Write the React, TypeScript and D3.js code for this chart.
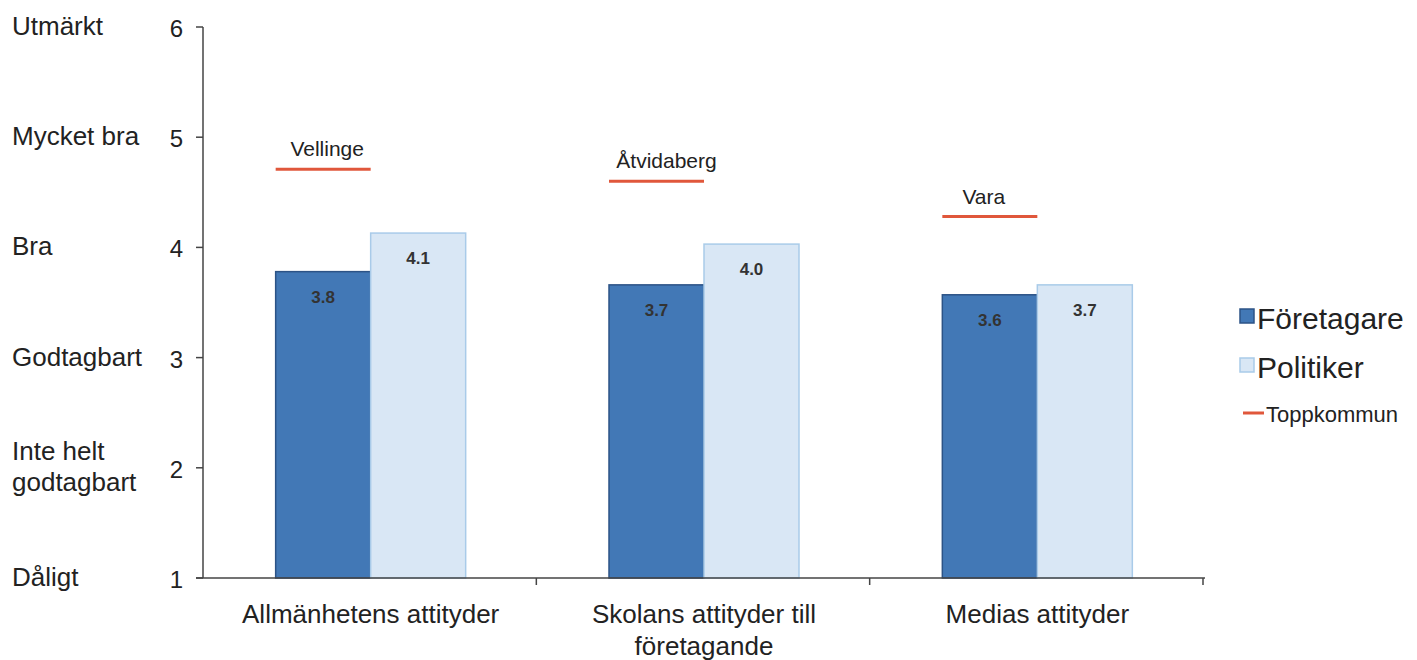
import React from "react";
import * as d3 from "d3";

const categories = ["Allmänhetens attityder", "Skolans attityder till företagande", "Medias attityder"];
const categoryLines = [["Allmänhetens attityder"], ["Skolans attityder till", "företagande"], ["Medias attityder"]];
const foretagare = [3.78, 3.66, 3.57];
const politiker = [4.13, 4.03, 3.66];
const toppkommun = [4.71, 4.6, 4.28];
const toppNames = ["Vellinge", "Åtvidaberg", "Vara"];
const yTicks = [1, 2, 3, 4, 5, 6];
const yTickNames = [["Dåligt"], ["Inte helt", "godtagbart"], ["Godtagbart"], ["Bra"], ["Mycket bra"], ["Utmärkt"]];
const seriesNames = ["Företagare", "Politiker"];

const W = 1417, H = 660;
const FONT = "'Liberation Sans', Arial, sans-serif";

export default function App() {
  const x = d3.scaleBand<string>().domain(categories).range([203, 1203]).paddingInner(0).paddingOuter(0);
  const y = d3.scaleLinear().domain([1, 6]).range([578, 27]);
  const bw = 95;
  const series = [
    { name: seriesNames[0], values: foretagare, fill: "#4278b6", stroke: "#2c5386" },
    { name: seriesNames[1], values: politiker, fill: "#d9e7f5", stroke: "#a9cbe9" },
  ];
  const labelShift = [4, 10, -6];
  return (
    <svg width={W} height={H} style={{ position: "absolute", left: 0, top: 0, background: "#fff" }} fontFamily={FONT}>
      {categories.map((c, i) => {
        const cx = (x(c) as number) + x.bandwidth() / 2 + 1;
        return (
          <g key={c}>
            {series.map((s, j) => {
              const x0 = cx - bw + j * bw;
              const top = y(s.values[i]);
              return (
                <g key={s.name}>
                  <rect x={x0} y={top} width={bw} height={y(1) - top} fill={s.fill} stroke={s.stroke} strokeWidth={1.5} />
                  <text x={x0 + bw / 2} y={top + 31} textAnchor="middle" fontSize={17} fontWeight="bold" fill="#333">
                    {d3.format(".1f")(s.values[i])}
                  </text>
                </g>
              );
            })}
            <line x1={cx - bw} x2={cx} y1={y(toppkommun[i])} y2={y(toppkommun[i])} stroke="#e0573b" strokeWidth={3} />
            <text x={cx - bw / 2 + labelShift[i]} y={y(toppkommun[i]) - 13} textAnchor="middle" fontSize={21} fill="#222">
              {toppNames[i]}
            </text>
            {categoryLines[i].map((ln, k) => (
              <text key={k} x={cx} y={623 + k * 32} textAnchor="middle" fontSize={26} fill="#222">{ln}</text>
            ))}
          </g>
        );
      })}
      <line x1={203} x2={203} y1={y(6)} y2={y(1)} stroke="#444" strokeWidth={1.5} />
      <line x1={196} x2={1205} y1={y(1)} y2={y(1)} stroke="#444" strokeWidth={1.5} />
      {yTicks.map((t) => (
        <g key={t}>
          <line x1={196} x2={203} y1={y(t)} y2={y(t)} stroke="#444" strokeWidth={1.5} />
          <text x={183} y={y(t) + 10} textAnchor="end" fontSize={24} fill="#222">{t}</text>
        </g>
      ))}
      {categories.map((c, i) => {
        const bx = (x(c) as number) + x.bandwidth();
        return <line key={i} x1={bx} x2={bx} y1={y(1)} y2={y(1) + 7} stroke="#444" strokeWidth={1.5} />;
      })}
      {yTickNames.map((names, i) => {
        const yy = y(yTicks[i]);
        const base = names.length === 1 ? yy + 8 : yy - 8;
        return names.map((n, k) => (
          <text key={`${i}-${k}`} x={12} y={base + k * 31} fontSize={26} fill="#222">{n}</text>
        ));
      })}
      <rect x={1240} y={309} width={14} height={14} fill={series[0].fill} stroke={series[0].stroke} strokeWidth={1.5} />
      <text x={1257} y={329} fontSize={30} fill="#222">{seriesNames[0]}</text>
      <rect x={1240} y={358} width={14} height={14} fill={series[1].fill} stroke={series[1].stroke} strokeWidth={1.5} />
      <text x={1257} y={378} fontSize={30} fill="#222">{seriesNames[1]}</text>
      <line x1={1243} x2={1264} y1={413} y2={413} stroke="#e0573b" strokeWidth={3} />
      <text x={1266} y={422} fontSize={22} fill="#222">Toppkommun</text>
    </svg>
  );
}
